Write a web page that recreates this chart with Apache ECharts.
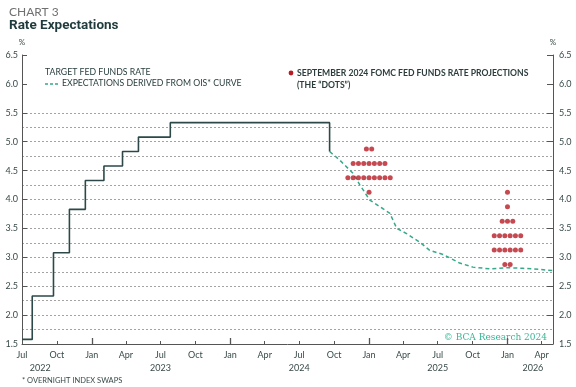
<!DOCTYPE html>
<html><head><meta charset="utf-8">
<script src="https://cdn.jsdelivr.net/npm/echarts@6/dist/echarts.min.js"></script>
<style>html,body{margin:0;padding:0;background:#fff}#c{width:576px;height:387px}</style>
</head><body><div id="c"></div>
<script>
// ---- data ----
const targetDates = ['2022-07-01','2022-07-28','2022-09-22','2022-11-03','2022-12-15','2023-02-02','2023-03-23','2023-05-04','2023-07-27','2024-09-19'];
const targetRates = [1.58,2.33,3.08,3.83,4.33,4.58,4.83,5.08,5.33,4.83];
const oisDates = ['2024-09-19','2024-10-16','2024-11-20','2024-12-08','2025-01-03','2025-02-07','2025-02-25','2025-03-15','2025-04-10','2025-05-15','2025-06-10','2025-07-15','2025-08-28','2025-10-02','2025-11-15','2025-12-29','2026-02-10','2026-03-27','2026-05-01'];
const oisRates = [4.83,4.68,4.45,4.25,3.99,3.84,3.76,3.50,3.41,3.26,3.12,3.05,2.90,2.83,2.80,2.82,2.81,2.79,2.77];
const dot2024Date = '2025-01-01';
const dot2024Levels = [4.875,4.625,4.375,4.125];
const dot2024Counts = [2,7,9,1];
const dot2025Date = '2026-01-01';
const dot2025Levels = [4.125,3.875,3.625,3.375,3.125,2.875];
const dot2025Counts = [1,1,3,6,6,2];
const quarterDates = ['2022-07-01','2022-10-01','2023-01-01','2023-04-01','2023-07-01','2023-10-01','2024-01-01','2024-04-01','2024-07-01','2024-10-01','2025-01-01','2025-04-01','2025-07-01','2025-10-01','2026-01-01','2026-04-01'];
const quarterLabels = ['Jul','Oct','Jan','Apr','Jul','Oct','Jan','Apr','Jul','Oct','Jan','Apr','Jul','Oct','Jan','Apr'];
const janDates = ['2023-01-01','2024-01-01','2025-01-01','2026-01-01'];
const yearLabelDates = ['2022-08-18','2023-07-01','2024-07-01','2025-07-01','2026-03-09'];
const yearLabels = ['2022','2023','2024','2025','2026'];
const xMin = '2022-07-01', xMax = '2026-05-01';
const yMin = 1.5, yMax = 6.5, yStep = 0.5, gridStep = 0.25, gridTop = 5.5;

// ---- helpers ----
const t = s => Date.parse(s + 'T00:00:00Z');
const qMap = {}; quarterDates.forEach((d,i)=>{ qMap[t(d)] = quarterLabels[i]; });
const yMap = {}; yearLabelDates.forEach((d,i)=>{ yMap[t(d)] = yearLabels[i]; });

function dotData(date, levels, counts){
  const out = [];
  levels.forEach((lv, k) => {
    const n = counts[k];
    for (let i = 0; i < n; i++) out.push({ value: [t(date), lv], symbolOffset: [(i - (n - 1) / 2) * 5.3, 0] });
  });
  return out;
}

// grid line colours: dotted lines from 1.75 to 5.5 only
const gridColors = [];
for (let v = yMin; v <= yMax + 1e-9; v += gridStep) gridColors.push((v > yMin + 1e-9 && v <= gridTop + 1e-9) ? '#a3a3a3' : 'rgba(0,0,0,0)');

const TXT = '#3a4a4a', AX = '#555';
const font = 'Lato, "Open Sans", sans-serif';

const chart = echarts.init(document.getElementById('c'), null, {renderer:'canvas'});
chart.setOption({
  animation: false,
  backgroundColor: '#fff',
  title: [
    {text:'CHART 3', left:4, top:1, textStyle:{fontFamily:font, fontSize:12, fontWeight:'normal', color:'#707070'}},
    {text:'Rate Expectations', left:4, top:14, textStyle:{fontFamily:'Roboto, sans-serif', fontSize:13.5, fontWeight:'bold', color:'#1f3b3d'}}
  ],
  grid: {left:22, right:23, top:55, bottom:43, containLabel:false},
  xAxis: [
    {type:'value', min:t(xMin), max:t(xMax), position:'bottom',
     axisLine:{show:true, lineStyle:{color:AX, width:1}},
     axisTick:{show:true, inside:true, length:3, customValues: quarterDates.map(t), lineStyle:{color:AX}},
     axisLabel:{show:true, customValues: quarterDates.map(t), formatter: v => qMap[v] || '', fontFamily:font, fontSize:9, color:TXT, margin:6.5},
     splitLine:{show:false}},
    {type:'value', min:t(xMin), max:t(xMax), position:'bottom',
     axisLine:{show:false},
     axisTick:{show:true, inside:true, length:6, customValues: janDates.map(t), lineStyle:{color:AX, width:1.3}},
     axisLabel:{show:true, customValues: yearLabelDates.map(t), formatter: v => yMap[v] || '', fontFamily:font, fontSize:9, color:TXT, margin:19.5},
     splitLine:{show:false}}
  ],
  yAxis: [
    {type:'value', min:yMin, max:yMax, interval:yStep, position:'left', name:'%', nameLocation:'end', nameGap:9,
     nameTextStyle:{fontFamily:font, fontSize:8, color:TXT, align:'center'},
     axisLine:{show:true, lineStyle:{color:AX}},
     axisTick:{show:true, inside:true, length:5, lineStyle:{color:AX}},
     axisLabel:{fontFamily:font, fontSize:9, color:TXT, margin:4, formatter: v => v.toFixed(1)},
     splitLine:{show:false}},
    {type:'value', min:yMin, max:yMax, interval:yStep, position:'right', name:'%', nameLocation:'end', nameGap:9,
     nameTextStyle:{fontFamily:font, fontSize:8, color:TXT, align:'center'},
     axisLine:{show:true, lineStyle:{color:AX}},
     axisTick:{show:true, inside:true, length:6, lineStyle:{color:AX}},
     axisLabel:{fontFamily:font, fontSize:9, color:TXT, margin:6, formatter: v => v.toFixed(1)},
     splitLine:{show:false}},
    {type:'value', min:yMin, max:yMax, interval:gridStep, position:'left',
     axisLine:{show:false}, axisTick:{show:false}, axisLabel:{show:false},
     splitLine:{show:true, lineStyle:{color:gridColors, type:[2,2], width:1}}}
  ],
  series: [
    {name:'TARGET FED FUNDS RATE', type:'line', step:'end', xAxisIndex:0, yAxisIndex:0, symbol:'none', z:4,
     lineStyle:{color:'#2c4848', width:1.6},
     data: targetDates.map((d,i)=>[t(d), targetRates[i]])},
    {name:'EXPECTATIONS DERIVED FROM OIS* CURVE', type:'line', xAxisIndex:0, yAxisIndex:0, symbol:'none', z:3,
     lineStyle:{color:'#34a98c', width:1.5, type:[4,3]},
     data: oisDates.map((d,i)=>[t(d), oisRates[i]])},
    {name:'SEPTEMBER 2024 FOMC FED FUNDS RATE PROJECTIONS', type:'scatter', xAxisIndex:0, yAxisIndex:0, symbol:'circle', symbolSize:5, z:5,
     itemStyle:{color:'#b71c24'},
     data: dotData(dot2024Date, dot2024Levels, dot2024Counts).concat(dotData(dot2025Date, dot2025Levels, dot2025Counts))}
  ],
  graphic: [
    {type:'text', left:45, top:67.5, style:{text:'TARGET FED FUNDS RATE', font:'8.7px '+font, fill:'#2c4040'}},
    {type:'line', shape:{x1:45, y1:84, x2:59, y2:84}, style:{stroke:'#34a98c', lineWidth:1.5, lineDash:[3,2]}},
    {type:'text', left:62, top:79, style:{text:'EXPECTATIONS DERIVED FROM OIS* CURVE', font:'8.7px '+font, fill:'#2c4040'}},
    {type:'circle', shape:{cx:291, cy:73, r:2.4}, style:{fill:'#b71c24'}},
    {type:'text', left:297, top:67.5, style:{text:'SEPTEMBER 2024 FOMC FED FUNDS RATE PROJECTIONS\n(THE “DOTS”)', font:'bold 8.6px '+font, fill:'#2c3c3c', lineHeight:11.5}},
    {type:'text', right:29, top:333, style:{text:'© BCA Research 2024', font:'9px "DejaVu Serif", serif', fill:'#3bb596'}},
    {type:'text', left:22, top:377, style:{text:'* OVERNIGHT INDEX SWAPS', font:'7.5px '+font, fill:'#3a4a4a'}}
  ]
});
</script></body></html>
